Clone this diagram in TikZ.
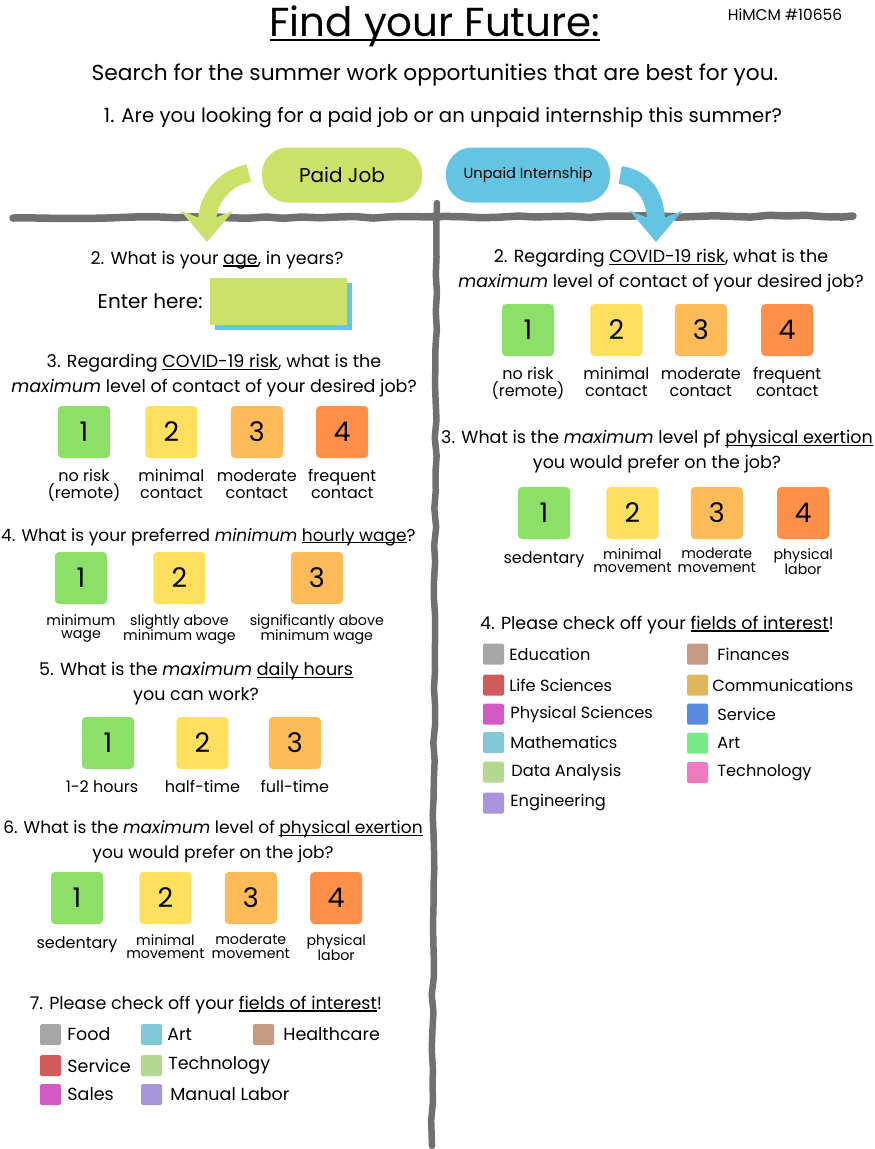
\documentclass[tikz,border=0pt]{standalone}
\usepackage{fontspec}
\setmainfont{Poppins}
\usetikzlibrary{arrows.meta,positioning,shadows,decorations.pathmorphing}

\definecolor{paidgreen}{HTML}{CCE16A}
\definecolor{unpaidblue}{HTML}{66C4E3}
\definecolor{lvone}{HTML}{8CE068}
\definecolor{lvtwo}{HTML}{FFDF5E}
\definecolor{lvthree}{HTML}{FFBA5A}
\definecolor{lvfour}{HTML}{FF904A}
\definecolor{roughgrey}{HTML}{707070}
\definecolor{cgrey}{HTML}{A6A6A6}
\definecolor{cred}{HTML}{D15B5B}
\definecolor{cmagenta}{HTML}{D35AC3}
\definecolor{cteal}{HTML}{80C8D8}
\definecolor{clime}{HTML}{B3D890}
\definecolor{clavender}{HTML}{A895DB}
\definecolor{ctan}{HTML}{C49A85}
\definecolor{cgold}{HTML}{E1B65A}
\definecolor{cblue}{HTML}{5B8BDF}
\definecolor{cgreen}{HTML}{77EA87}
\definecolor{cpink}{HTML}{EE79BF}

\newsavebox{\undlbox}
\newcommand{\undl}[2][0.07em]{\sbox{\undlbox}{#2}\rlap{\rule[-0.13em]{\wd\undlbox}{#1}}\usebox{\undlbox}}

\begin{document}
\begin{tikzpicture}[x=1pt,y=-1pt,
  every node/.style={align=center,inner sep=0pt,text=black},
  ques/.style={font=\fontsize{17.5}{25}\selectfont},
  wideques/.style={font=\fontsize{17}{25}\selectfont},
  pill/.style={rounded corners=26pt,minimum height=55pt},
  lvl/.style={minimum size=52pt,rounded corners=4pt,font=\fontsize{27}{27}\selectfont},
  lab/.style={font=\fontsize{16}{17}\selectfont},
  slab/.style={font=\fontsize{14.2}{13.5}\selectfont},
  swatch/.style={minimum size=21pt,rounded corners=1.5pt},
  field/.style={font=\fontsize{17.5}{17.5}\selectfont},
  fieldr/.style={font=\fontsize{16.2}{16.2}\selectfont},
  roughline/.style={draw=roughgrey,line width=7.5pt,line cap=round,line join=round,decorate,decoration={random steps,segment length=18pt,amplitude=1.1pt}},
  bigarrow/.style={line width=18pt,-{Stealth[length=31pt,width=52pt,inset=10pt]}}]
\fill[white] (0,0) rectangle (875,1149);
\useasboundingbox (0,0) rectangle (875,1149);

% header
\node[font=\fontsize{40.5}{40.5}\selectfont] (title) at (435,26) {\undl[0.065em]{Find your Future:}};
\node[font=\fontsize{15.5}{15.5}\selectfont] (tag) at (785,15) {HiMCM \#10656};
\node[font=\fontsize{21.7}{21.7}\selectfont] (intro) at (435,75) {Search for the summer work opportunities that are best for you.};
\node[font=\fontsize{19.7}{19.7}\selectfont] (q1) at (443,118) {1. Are you looking for a paid job or an unpaid internship this summer?};
\node[pill,fill=paidgreen,minimum width=160pt,font=\fontsize{20}{20}\selectfont] (paid) at (342,175) {Paid Job};
\node[pill,fill=unpaidblue,minimum width=164pt,font=\fontsize{14.6}{14.6}\selectfont] (unpaid) at (528,175) {Unpaid Internship};

% dividers
\pgfmathsetseed{11}
\coordinate (hl) at (13,218); \coordinate (hr) at (853,216);
\coordinate (vt) at (437,203); \coordinate (vb) at (432,1146);
\draw[roughline] (hl) -- (hr);
\draw[roughline,line width=6.5pt] (vt) -- (vb);

% arrows
\coordinate (paidtip) at (207,242);
\coordinate (unpaidtip) at (656,242);
\draw[bigarrow,paidgreen] ([xshift=-13pt,yshift=2pt]paid.west) .. controls +(-28,6) and +(0,-40) .. (paidtip);
\draw[bigarrow,unpaidblue] ([xshift=10pt]unpaid.east) .. controls +(28,4) and +(0,-40) .. (unpaidtip);

% paid job: age
\node[ques] (agequest) at (217,260) {2. What is your \undl{age}, in years?};
\node[fill=paidgreen,minimum width=137pt,minimum height=47pt,drop shadow={shadow xshift=5pt,shadow yshift=-5pt,fill=unpaidblue,opacity=1}] (agebox) at (278.5,301.5) {};
\node[anchor=east,font=\fontsize{20}{20}\selectfont] (enter) at ([xshift=-7pt]agebox.west) {Enter here:};

% paid job: covid risk
\node[ques] (riskL) at (214,376) {3. Regarding \undl{COVID-19 risk}, what is the\\\textit{maximum} level of contact of your desired job?};
\node[lvl,fill=lvone] (rl1) at (84,432) {1};
\node[lvl,fill=lvtwo,right=35pt of rl1] (rl2) {2};
\node[lvl,fill=lvthree,right=33pt of rl2] (rl3) {3};
\node[lvl,fill=lvfour,right=33pt of rl3] (rl4) {4};
\node[lab,below=11pt of rl1] (rl1t) {no risk\\(remote)};
\node[lab,below=11pt of rl2] (rl2t) {minimal\\contact};
\node[lab,below=11pt of rl3] (rl3t) {moderate\\contact};
\node[lab,below=11pt of rl4] (rl4t) {frequent\\contact};

% paid job: wage
\node[wideques,anchor=west] (wage) at (1,537) {4. What is your preferred \textit{minimum} \undl{hourly wage}?};
\node[lvl,fill=lvone] (wg1) at (81,578) {1};
\node[lvl,fill=lvtwo,right=46pt of wg1] (wg2) {2};
\node[lvl,fill=lvthree,right=85pt of wg2] (wg3) {3};
\node[slab,below=10pt of wg1] (wg1t) {minimum\\wage};
\node[slab,below=10pt of wg2] (wg2t) {slightly above\\minimum wage};
\node[slab,below=10pt of wg3] (wg3t) {significantly above\\minimum wage};

% paid job: hours
\node[ques] (hours) at (196,684) {5. What is the \textit{maximum} \undl{daily hours}\\you can work?};
\node[lvl,fill=lvone] (hr1) at (108,743) {1};
\node[lvl,fill=lvtwo,right=42pt of hr1] (hr2) {2};
\node[lvl,fill=lvthree,right=40pt of hr2] (hr3) {3};
\node[lab,below=11pt of hr1,xshift=-6pt] (hr1t) {1-2 hours};
\node[lab,below=11pt of hr2] (hr2t) {half-time};
\node[lab,below=11pt of hr3] (hr3t) {full-time};

% paid job: exertion
\node[wideques] (exL) at (213,842) {6. What is the \textit{maximum} level of \undl{physical exertion}\\you would prefer on the job?};
\node[lvl,fill=lvone] (el1) at (77,898) {1};
\node[lvl,fill=lvtwo,right=36pt of el1] (el2) {2};
\node[lvl,fill=lvthree,right=33pt of el2] (el3) {3};
\node[lvl,fill=lvfour,right=33pt of el3] (el4) {4};
\node[lab,below=12pt of el1] (el1t) {sedentary};
\node[slab,below=10pt of el2] (el2t) {minimal\\movement};
\node[slab,below=10pt of el3] (el3t) {moderate\\movement};
\node[slab,below=10pt of el4] (el4t) {physical\\labor};

% paid job: fields
\node[ques] (fieldsL) at (206,1005) {7. Please check off your \undl{fields of interest}!};
\node[swatch,fill=cgrey] (sfood) at (50.5,1034.5) {};
\node[swatch,fill=cred] (sserv) at (50.5,1065.5) {};
\node[swatch,fill=cmagenta] (ssales) at (50.5,1094.5) {};
\node[swatch,fill=cteal] (sart) at (151.5,1034.5) {};
\node[swatch,fill=clime] (stech) at (151.5,1065.5) {};
\node[swatch,fill=clavender] (smanual) at (151.5,1094.5) {};
\node[swatch,fill=ctan] (shealth) at (263.5,1034.5) {};
\node[field,right=6pt of sfood] (tfood) {Food};
\node[field,right=6pt of sserv] (tserv) {Service};
\node[field,right=6pt of ssales] (tsales) {Sales};
\node[field,right=5pt of sart] (tart) {Art};
\node[field,right=6pt of stech] (ttech) {Technology};
\node[field,right=8pt of smanual] (tmanual) {Manual Labor};
\node[field,right=9pt of shealth] (thealth) {Healthcare};

% internship: covid risk
\node[ques] (riskR) at (661,271) {2. Regarding \undl{COVID-19 risk}, what is the\\\textit{maximum} level of contact of your desired job?};
\node[lvl,fill=lvone] (rr1) at (528,330) {1};
\node[lvl,fill=lvtwo,right=36pt of rr1] (rr2) {2};
\node[lvl,fill=lvthree,right=32pt of rr2] (rr3) {3};
\node[lvl,fill=lvfour,right=34pt of rr3] (rr4) {4};
\node[lab,below=11pt of rr1] (rr1t) {no risk\\(remote)};
\node[lab,below=11pt of rr2] (rr2t) {minimal\\contact};
\node[lab,below=11pt of rr3] (rr3t) {moderate\\contact};
\node[lab,below=11pt of rr4] (rr4t) {frequent\\contact};

% internship: exertion
\node[ques] (exR) at (657,452) {3. What is the \textit{maximum} level pf \undl{physical exertion}\\you would prefer on the job?};
\node[lvl,fill=lvone] (er1) at (544,513) {1};
\node[lvl,fill=lvtwo,right=36pt of er1] (er2) {2};
\node[lvl,fill=lvthree,right=32pt of er2] (er3) {3};
\node[lvl,fill=lvfour,right=34pt of er3] (er4) {4};
\node[lab,below=12pt of er1] (er1t) {sedentary};
\node[slab,below=9pt of er2] (er2t) {minimal\\movement};
\node[slab,below=9pt of er3] (er3t) {moderate\\movement};
\node[slab,below=9pt of er4] (er4t) {physical\\labor};

% internship: fields
\node[ques] (fieldsR) at (657,625) {4. Please check off your \undl{fields of interest}!};
\node[swatch,fill=cgrey] (sedu) at (493.5,654) {};
\node[swatch,fill=cred] (slife) at (493.5,685) {};
\node[swatch,fill=cmagenta] (sphys) at (493.5,714) {};
\node[swatch,fill=cteal] (smath) at (493.5,742.5) {};
\node[swatch,fill=clime] (sdata) at (493.5,772) {};
\node[swatch,fill=clavender] (seng) at (493.5,803) {};
\node[swatch,fill=ctan] (sfin) at (697.5,654) {};
\node[swatch,fill=cgold] (scomm) at (697.5,685) {};
\node[swatch,fill=cblue] (sservr) at (697.5,714) {};
\node[swatch,fill=cgreen] (sartr) at (697.5,743) {};
\node[swatch,fill=cpink] (stechr) at (697.5,772.5) {};
\node[fieldr,right=5pt of sedu] (tedu) {Education};
\node[fieldr,right=5pt of slife] (tlife) {Life Sciences};
\node[fieldr,right=6pt of sphys] (tphys) {Physical Sciences};
\node[fieldr,right=6pt of smath] (tmath) {Mathematics};
\node[fieldr,right=7pt of sdata] (tdata) {Data Analysis};
\node[fieldr,right=6pt of seng] (teng) {Engineering};
\node[fieldr,right=9pt of sfin] (tfin) {Finances};
\node[fieldr,right=4pt of scomm] (tcomm) {Communications};
\node[fieldr,right=9pt of sservr] (tservr) {Service};
\node[fieldr,right=9pt of sartr] (tartr) {Art};
\node[fieldr,right=9pt of stechr] (ttechr) {Technology};
\end{tikzpicture}
\end{document}
